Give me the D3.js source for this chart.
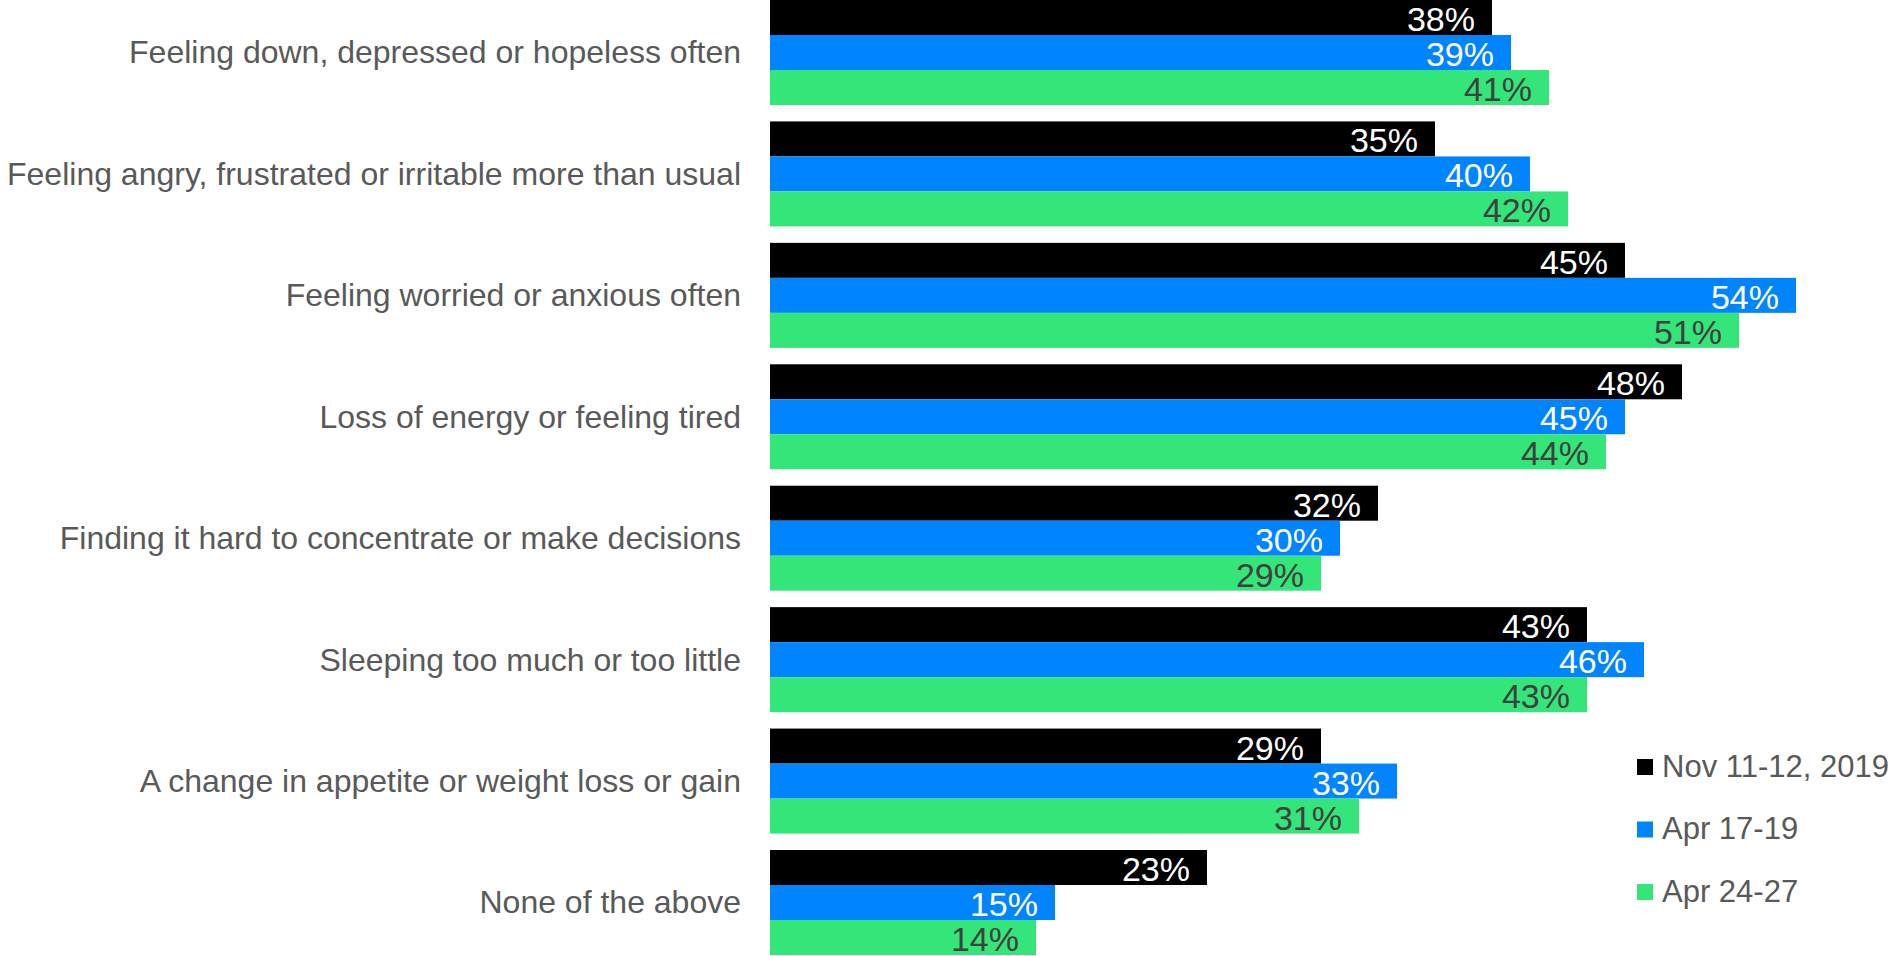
<!DOCTYPE html>
<html>
<head>
<meta charset="utf-8">
<script src="https://cdn.jsdelivr.net/npm/d3@7"></script>
<style>
  html, body { margin: 0; padding: 0; background: #ffffff; }
  svg { display: block; font-family: "Liberation Sans", Arial, sans-serif; }
</style>
</head>
<body>
<svg id="chart" width="1896" height="956"></svg>
<script>
const categories = [
  "Feeling down, depressed or hopeless often",
  "Feeling angry, frustrated or irritable more than usual",
  "Feeling worried or anxious often",
  "Loss of energy or feeling tired",
  "Finding it hard to concentrate or make decisions",
  "Sleeping too much or too little",
  "A change in appetite or weight loss or gain",
  "None of the above"
];
const seriesNames = ["Nov 11-12, 2019", "Apr 17-19", "Apr 24-27"];
const nov2019 = [38, 35, 45, 48, 32, 43, 29, 23];
const apr1719 = [39, 40, 54, 45, 30, 46, 33, 15];
const apr2427 = [41, 42, 51, 44, 29, 43, 31, 14];
const seriesColors = ["#000000", "#0084ff", "#34e679"];
const labelColors = ["#ffffff", "#ffffff", "#404040"];

const seriesValues = [nov2019, apr1719, apr2427];
const rows = categories.map((c, i) => ({
  category: c,
  values: seriesNames.map((s, j) => ({ series: s, idx: j, value: seriesValues[j][i] }))
}));

const svg = d3.select("#chart");

const x = d3.scaleLinear().domain([0, 60]).range([770, 1910]);
const y = d3.scaleBand().domain(categories).range([0, 955]).paddingInner(0.1353).paddingOuter(0);
const ySub = d3.scaleBand().domain(seriesNames).range([0, y.bandwidth()]).padding(0);

// Category labels
const yAxis = d3.axisLeft(y).tickSize(0).tickPadding(0);
const gAxis = svg.append("g").attr("transform", "translate(741,0)").call(yAxis);
gAxis.select(".domain").remove();
gAxis.selectAll("text")
  .attr("font-size", 32)
  .attr("font-family", "Liberation Sans, Arial, sans-serif")
  .attr("fill", "#595959")
  .attr("dy", "0.34em");

// Bars
const groups = svg.append("g").selectAll("g")
  .data(rows).join("g")
  .attr("transform", d => `translate(0,${y(d.category)})`);

groups.selectAll("rect")
  .data(d => d.values).join("rect")
  .attr("x", x(0))
  .attr("y", d => ySub(d.series))
  .attr("width", d => x(d.value) - x(0))
  .attr("height", ySub.bandwidth())
  .attr("fill", d => seriesColors[d.idx]);

groups.selectAll("text.val")
  .data(d => d.values).join("text")
  .attr("class", "val")
  .attr("x", d => x(d.value) - 17)
  .attr("y", d => ySub(d.series) + ySub.bandwidth() / 2 + 13.5)
  .attr("text-anchor", "end")
  .attr("font-size", 34)
  .attr("fill", d => labelColors[d.idx])
  .text(d => d.value + "%");

// Legend
const legend = svg.append("g").selectAll("g")
  .data(seriesNames).join("g")
  .attr("transform", (d, i) => `translate(1637,${759 + i * 62.5})`);
legend.append("rect")
  .attr("width", 16).attr("height", 16)
  .attr("fill", (d, i) => seriesColors[i]);
legend.append("text")
  .attr("x", 25).attr("y", 17.5)
  .attr("font-size", 31)
  .attr("fill", "#595959")
  .text(d => d);
</script>
</body>
</html>
